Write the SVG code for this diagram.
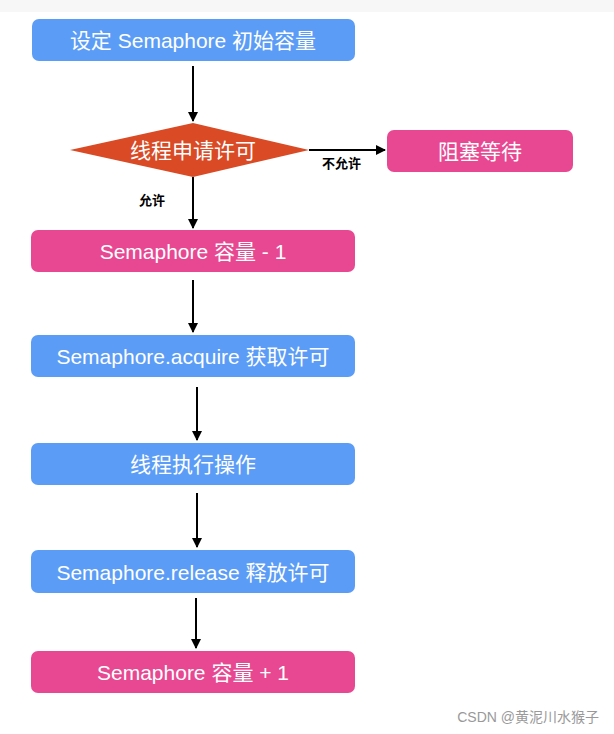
<svg xmlns="http://www.w3.org/2000/svg" width="614" height="734" viewBox="0 0 614 734">
<style>
.b{fill:#5b9cf6}.p{fill:#e84892}
.t{font-family:"Liberation Sans","Noto Sans CJK SC",sans-serif;fill:#fff;font-size:21px;text-anchor:middle}
.l{font-family:"Liberation Sans","Noto Sans CJK SC",sans-serif;fill:#000;font-size:13px;font-weight:bold}
.c{stroke:#000;stroke-width:2;fill:none;marker-end:url(#a)}
</style>
<defs><marker id="a" viewBox="0 0 10 10" refX="9" refY="5" markerWidth="5" markerHeight="5" orient="auto"><path d="M0,0L10,5L0,10z" fill="#000"/></marker></defs>
<rect width="614" height="734" fill="#fff"/>
<rect x="0" y="0" width="614" height="12" fill="#f7f7f7"/>
<g id="n1"><rect class="b" x="32" y="19" width="323" height="42" rx="7"/><text class="t" x="193" y="48">设定 Semaphore 初始容量</text></g>
<g id="n2"><polygon points="70,150 193,123 309,150 193,177" fill="#d94a25"/><text class="t" x="193" y="158">线程申请许可</text></g>
<g id="n3"><rect class="p" x="387" y="130" width="186" height="42" rx="7"/><text class="t" x="480" y="159">阻塞等待</text></g>
<g id="n4"><rect class="p" x="31" y="230" width="324" height="42" rx="7"/><text class="t" x="193" y="259">Semaphore 容量 - 1</text></g>
<g id="n5"><rect class="b" x="31" y="335" width="324" height="42" rx="7"/><text class="t" x="193" y="364">Semaphore.acquire 获取许可</text></g>
<g id="n6"><rect class="b" x="31" y="443" width="324" height="42" rx="7"/><text class="t" x="193" y="472">线程执行操作</text></g>
<g id="n7"><rect class="b" x="31" y="550" width="324" height="43" rx="7"/><text class="t" x="193" y="580">Semaphore.release 释放许可</text></g>
<g id="n8"><rect class="p" x="31" y="651" width="324" height="42" rx="7"/><text class="t" x="193" y="680">Semaphore 容量 + 1</text></g>
<g id="edges">
<path class="c" d="M193,66V121"/>
<path class="c" d="M309,150H385"/>
<path class="c" d="M193,177V228"/>
<path class="c" d="M193,280V332"/>
<path class="c" d="M197,387V440"/>
<path class="c" d="M197,493V547"/>
<path class="c" d="M196,598V648"/>
<text class="l" x="322" y="168">不允许</text>
<text class="l" x="139" y="205">允许</text>
</g>
<text x="599" y="722" font-family="Liberation Sans,Noto Sans CJK SC,sans-serif" font-size="14" fill="#999" text-anchor="end">CSDN @黄泥川水猴子</text>
</svg>
